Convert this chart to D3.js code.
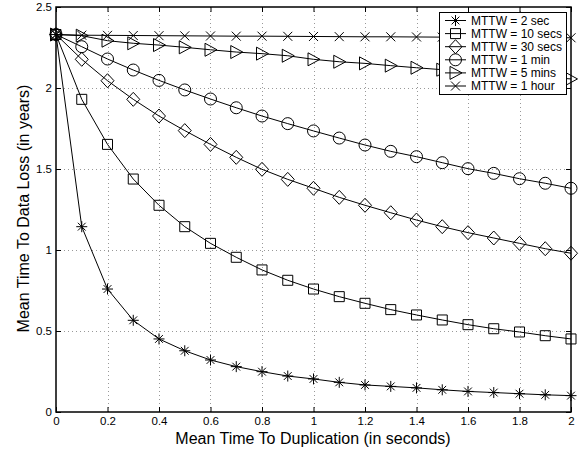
<!DOCTYPE html>
<html>
<head>
<meta charset="utf-8">
<script src="https://cdn.jsdelivr.net/npm/d3@7"></script>
<style>
  html, body { margin: 0; padding: 0; background: #fff; }
  svg { display: block; }
  text { font-family: "Liberation Sans", Arial, Helvetica, sans-serif; fill: #000; }
</style>
</head>
<body>
<svg id="chart" width="587" height="451"></svg>
<script>
// Mean time to duplication (seconds)
const duplication = [0, 0.1, 0.2, 0.3, 0.4, 0.5, 0.6, 0.7, 0.8, 0.9, 1.0,
                     1.1, 1.2, 1.3, 1.4, 1.5, 1.6, 1.7, 1.8, 1.9, 2.0];

// Mean time to data loss (years), one array per MTTW setting
const mttw2sec  = [2.33, 1.144, 0.759, 0.566, 0.451, 0.378, 0.321, 0.280, 0.249, 0.222, 0.204,
                   0.183, 0.167, 0.158, 0.149, 0.137, 0.127, 0.120, 0.113, 0.106, 0.101];
const mttw10sec = [2.33, 1.93, 1.652, 1.438, 1.276, 1.144, 1.041, 0.955, 0.877, 0.813, 0.759,
                   0.712, 0.671, 0.632, 0.599, 0.568, 0.539, 0.514, 0.494, 0.471, 0.451];
const mttw30sec = [2.33, 2.177, 2.045, 1.930, 1.827, 1.737, 1.652, 1.572, 1.498, 1.436, 1.381,
                   1.325, 1.276, 1.230, 1.185, 1.144, 1.107, 1.074, 1.041, 1.008, 0.980];
const mttw1min  = [2.33, 2.255, 2.179, 2.111, 2.047, 1.988, 1.932, 1.878, 1.827, 1.780, 1.735,
                   1.691, 1.648, 1.609, 1.576, 1.539, 1.502, 1.473, 1.440, 1.412, 1.381];
const mttw5min  = [2.33, 2.323, 2.292, 2.276, 2.265, 2.251, 2.236, 2.222, 2.212, 2.199, 2.177,
                   2.162, 2.152, 2.138, 2.125, 2.113, 2.102, 2.090, 2.079, 2.067, 2.056];
const mttw1hour = [2.33, 2.326, 2.325, 2.324, 2.323, 2.322, 2.321, 2.320, 2.320, 2.319, 2.318,
                   2.317, 2.316, 2.316, 2.315, 2.314, 2.313, 2.312, 2.312, 2.311, 2.310];

const seriesNames = ["MTTW = 2 sec", "MTTW = 10 secs", "MTTW = 30 secs",
                     "MTTW = 1 min", "MTTW = 5 mins", "MTTW = 1 hour"];
const seriesValues = [mttw2sec, mttw10sec, mttw30sec, mttw1min, mttw5min, mttw1hour];
const seriesMarkers = ["asterisk", "square", "diamond", "circle", "triangleRight", "cross"];

const xTicks = [0, 0.2, 0.4, 0.6, 0.8, 1, 1.2, 1.4, 1.6, 1.8, 2];
const yTicks = [0, 0.5, 1, 1.5, 2, 2.5];

const xLabel = "Mean Time To Duplication (in seconds)";
const yLabel = "Mean Time To Data Loss (in years)";

const svg = d3.select("#chart");
const plotLeft = 56, plotRight = 571, plotTop = 7, plotBottom = 412;

const x = d3.scaleLinear().domain([0, 2]).range([plotLeft, plotRight]);
const y = d3.scaleLinear().domain([0, 2.5]).range([plotBottom, plotTop]);

// Marker glyph paths, centred on the origin
function markerPath(kind) {
  const p = d3.path();
  switch (kind) {
    case "asterisk": {
      const r = 5.5, d = r * Math.SQRT1_2;
      p.moveTo(-r, 0); p.lineTo(r, 0);
      p.moveTo(0, -r); p.lineTo(0, r);
      p.moveTo(-d, -d); p.lineTo(d, d);
      p.moveTo(-d, d); p.lineTo(d, -d);
      break;
    }
    case "square":
      p.rect(-5, -5, 10, 10);
      break;
    case "diamond":
      p.moveTo(0, -7); p.lineTo(6.5, 0); p.lineTo(0, 7); p.lineTo(-6.5, 0); p.closePath();
      break;
    case "circle":
      p.moveTo(6, 0); p.arc(0, 0, 6, 0, 2 * Math.PI);
      break;
    case "triangleRight":
      p.moveTo(-5.5, -6.5); p.lineTo(6.5, 0); p.lineTo(-5.5, 6.5); p.closePath();
      break;
    case "cross": {
      const r = 4.5;
      p.moveTo(-r, -r); p.lineTo(r, r);
      p.moveTo(-r, r); p.lineTo(r, -r);
      break;
    }
  }
  return p.toString();
}

// Dotted grid
const grid = svg.append("g").attr("stroke", "#999").attr("stroke-width", 1)
  .attr("stroke-dasharray", "1,3");
grid.selectAll("line.gx").data(xTicks.slice(1, -1)).join("line")
  .attr("x1", d => Math.round(x(d)) + 0.5).attr("x2", d => Math.round(x(d)) + 0.5)
  .attr("y1", plotTop).attr("y2", plotBottom);
grid.selectAll("line.gy").data(yTicks.slice(1, -1)).join("line")
  .attr("y1", d => Math.round(y(d)) + 0.5).attr("y2", d => Math.round(y(d)) + 0.5)
  .attr("x1", plotLeft).attr("x2", plotRight);

// Series lines and markers
const line = d3.line().x((d, i) => x(duplication[i])).y(d => y(d));
const plot = svg.append("g");
seriesValues.forEach((vals, s) => {
  const g = plot.append("g");
  g.append("path").attr("d", line(vals)).attr("fill", "none")
    .attr("stroke", "#000").attr("stroke-width", 1);
  g.selectAll("path.m").data(vals).join("path").attr("class", "m")
    .attr("d", markerPath(seriesMarkers[s]))
    .attr("transform", (d, i) => `translate(${x(duplication[i])},${y(d)})`)
    .attr("fill", "none").attr("stroke", "#000").attr("stroke-width", 1);
});

// Axes with inward ticks on all four sides
const tick = 5;
svg.append("g").attr("transform", `translate(0,${plotBottom})`)
  .call(d3.axisBottom(x).tickValues(xTicks).tickSizeInner(-tick).tickSizeOuter(0).tickPadding(5)
        .tickFormat(d3.format("~g")))
  .call(g => g.select(".domain").remove());
svg.append("g").attr("transform", `translate(0,${plotTop})`)
  .call(d3.axisTop(x).tickValues(xTicks).tickSizeInner(-tick).tickSizeOuter(0).tickFormat(""))
  .call(g => g.select(".domain").remove());
svg.append("g").attr("transform", `translate(${plotLeft},0)`)
  .call(d3.axisLeft(y).tickValues(yTicks).tickSizeInner(-tick).tickSizeOuter(0).tickPadding(4)
        .tickFormat(d3.format("~g")))
  .call(g => g.select(".domain").remove());
svg.append("g").attr("transform", `translate(${plotRight},0)`)
  .call(d3.axisRight(y).tickValues(yTicks).tickSizeInner(-tick).tickSizeOuter(0).tickFormat(""))
  .call(g => g.select(".domain").remove());
svg.selectAll(".tick line").attr("stroke", "#000");
svg.selectAll(".tick text").attr("font-size", 11.5)
  .attr("font-family", "'Liberation Sans', Arial, Helvetica, sans-serif");

svg.append("rect").attr("x", plotLeft).attr("y", plotTop)
  .attr("width", plotRight - plotLeft).attr("height", plotBottom - plotTop)
  .attr("fill", "none").attr("stroke", "#000").attr("stroke-width", 1.5);

// Axis titles
svg.append("text").attr("x", (plotLeft + plotRight) / 2 - 0.5).attr("y", 444)
  .attr("text-anchor", "middle").attr("font-size", 16).text(xLabel);
svg.append("text").attr("transform", `translate(29,208.5) rotate(-90)`)
  .attr("text-anchor", "middle").attr("font-size", 16).text(yLabel);

// Legend
const lg = svg.append("g");
lg.append("rect").attr("x", 439.5).attr("y", 12.5).attr("width", 127).attr("height", 82)
  .attr("fill", "#fff").attr("stroke", "#000").attr("stroke-width", 1);
seriesNames.forEach((name, s) => {
  const cy = 20.5 + s * 13.1;
  lg.append("line").attr("x1", 445).attr("x2", 466).attr("y1", cy).attr("y2", cy)
    .attr("stroke", "#000");
  lg.append("path").attr("d", markerPath(seriesMarkers[s]))
    .attr("transform", `translate(455.5,${cy})`)
    .attr("fill", "none").attr("stroke", "#000");
  lg.append("text").attr("x", 471).attr("y", cy).attr("dy", "0.36em")
    .attr("font-size", 12).text(name);
});
</script>
</body>
</html>
